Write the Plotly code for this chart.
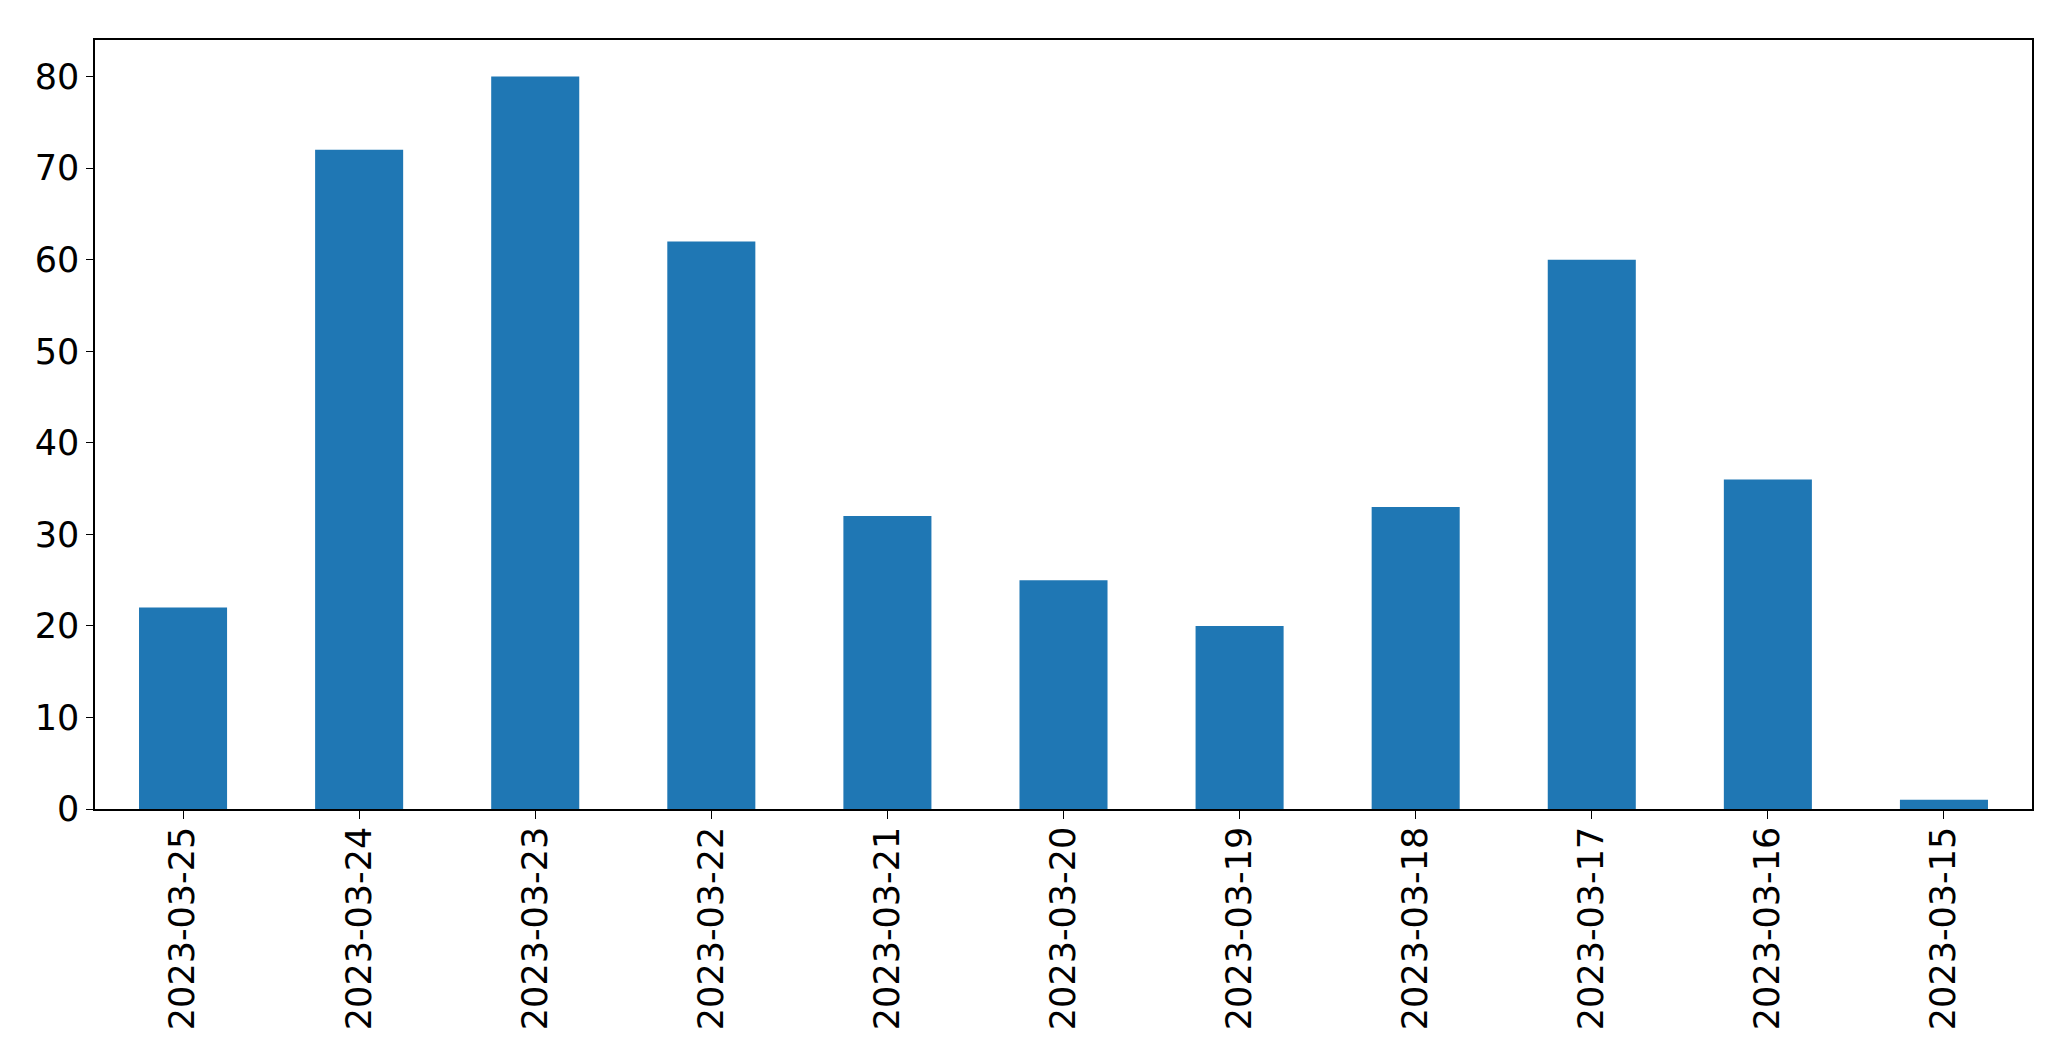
import plotly.graph_objects as go

dates = ["2023-03-25", "2023-03-24", "2023-03-23", "2023-03-22", "2023-03-21", "2023-03-20",
         "2023-03-19", "2023-03-18", "2023-03-17", "2023-03-16", "2023-03-15"]
counts = [22, 72, 80, 62, 32, 25, 20, 33, 60, 36, 1]
y_ticks = [0, 10, 20, 30, 40, 50, 60, 70, 80]

fig = go.Figure()
fig.add_trace(go.Bar(x=dates, y=counts, marker_color="#1f77b4", marker_line_width=0, width=0.5))

# page body has an 8px margin, so shrink the figure and shift margins to compensate
fig.update_layout(
    width=2055, height=1045,
    margin=dict(l=87, r=31, t=32, b=244),
    plot_bgcolor="white", paper_bgcolor="white",
    font=dict(family="DejaVu Sans", size=35, color="black"),
    showlegend=False,
)
fig.update_xaxes(
    type="category", range=[-0.5, 10.5], tickangle=-90,
    showline=True, linecolor="black", linewidth=1.5, mirror=True,
    ticks="outside", ticklen=8, tickcolor="black", showgrid=False,
    ticklabelstandoff=-6,
)
fig.update_yaxes(
    range=[0, 84], tickvals=y_ticks,
    showline=True, linecolor="black", linewidth=1.5, mirror=True,
    ticks="outside", ticklen=7, tickcolor="black", showgrid=False, zeroline=False,
)

fig.write_html("out.html")
